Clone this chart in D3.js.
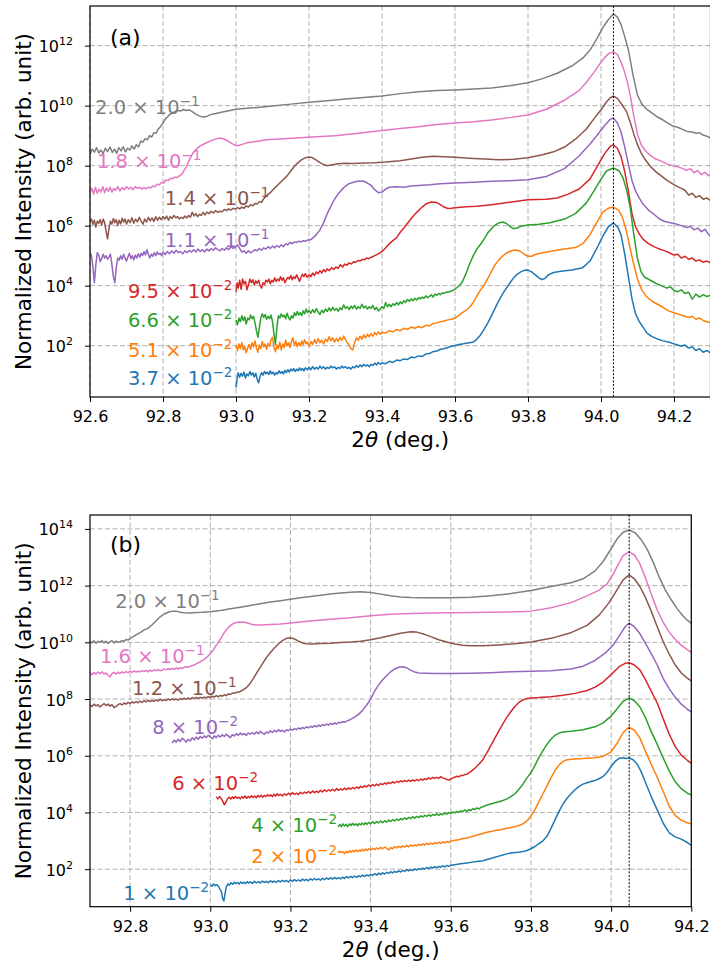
<!DOCTYPE html>
<html>
<head>
<meta charset="utf-8">
<script src="https://cdn.jsdelivr.net/npm/d3@7"></script>
<style>
body { margin:0; background:#fff; }
svg { font-family:"DejaVu Sans", sans-serif; }
.grid line { stroke:#b0b0b0; stroke-width:1; stroke-dasharray:5,2.5; }
.axis line { stroke:#000; stroke-width:1; }
.axis text { font-size:16px; fill:#000; font-family:"DejaVu Sans", sans-serif; }
</style>
</head>
<body>
<div id="chart-area"></div>
<script>
// each point: [2theta (deg), log10 of normalized intensity]

// ---------- panel (a) ----------
var aGray = [[92.600,8.38],[92.606,8.55],[92.612,8.45],[92.618,8.60],[92.624,8.42],[92.630,8.52],[92.636,8.40],[92.642,8.58],[92.648,8.47],[92.655,8.62],[92.661,8.44],[92.667,8.55],[92.673,8.41],[92.679,8.60],[92.685,8.49],[92.691,8.63],[92.697,8.46],[92.703,8.58],[92.709,8.52],[92.715,8.66],[92.721,8.55],[92.727,8.70],[92.733,8.62],[92.739,8.82],[92.745,8.78],[92.751,8.90],[92.757,8.86],[92.763,9.00],[92.769,8.95],[92.775,9.10],[92.781,9.08],[92.787,9.22],[92.793,9.30],[92.800,9.42],[92.806,9.55],[92.812,9.62],[92.818,9.70],[92.825,9.75],[92.832,9.80],[92.840,9.84],[92.848,9.82],[92.856,9.87],[92.864,9.84],[92.872,9.86],[92.880,9.80],[92.890,9.72],[92.900,9.65],[92.910,9.62],[92.920,9.64],[92.930,9.70],[92.945,9.74],[92.960,9.78],[92.980,9.83],[93.000,9.88],[93.03,9.91],[93.06,9.94],[93.10,9.99],[93.15,10.05],[93.20,10.11],[93.25,10.16],[93.30,10.22],[93.35,10.27],[93.40,10.32],[93.45,10.40],[93.50,10.46],[93.55,10.50],[93.60,10.52],[93.65,10.55],[93.70,10.59],[93.75,10.66],[93.80,10.76],[93.84,10.90],[93.88,11.08],[93.92,11.32],[93.95,11.58],[93.97,11.85],[93.99,12.26],[94.005,12.60],[94.02,12.86],[94.034,13.06],[94.045,12.95],[94.055,12.70],[94.065,12.30],[94.075,11.86],[94.088,11.00],[94.100,10.35],[94.112,10.05],[94.125,9.88],[94.140,9.75],[94.155,9.62],[94.17,9.52],[94.185,9.40],[94.197,9.32],[94.21,9.28],[94.225,9.20],[94.236,9.14],[94.25,9.12],[94.26,9.08],[94.27,9.10],[94.28,9.02],[94.29,8.98],[94.30,8.92]];

var aPink = [[92.600,7.10],[92.605,7.25],[92.610,7.05],[92.615,7.28],[92.620,7.08],[92.625,7.22],[92.630,7.12],[92.635,7.30],[92.640,7.10],[92.645,7.26],[92.650,7.14],[92.655,7.28],[92.660,7.12],[92.665,7.24],[92.670,7.18],[92.676,7.30],[92.682,7.16],[92.688,7.27],[92.694,7.20],[92.700,7.30],[92.706,7.22],[92.712,7.28],[92.718,7.20],[92.724,7.30],[92.730,7.24],[92.736,7.28],[92.742,7.22],[92.748,7.27],[92.754,7.23],[92.760,7.28],[92.766,7.26],[92.772,7.32],[92.778,7.30],[92.784,7.38],[92.790,7.36],[92.796,7.44],[92.802,7.42],[92.808,7.52],[92.814,7.50],[92.820,7.58],[92.826,7.56],[92.832,7.62],[92.838,7.60],[92.845,7.66],[92.852,7.72],[92.858,7.85],[92.864,7.96],[92.870,8.14],[92.876,8.28],[92.882,8.42],[92.892,8.56],[92.902,8.66],[92.912,8.72],[92.922,8.78],[92.935,8.85],[92.948,8.90],[92.958,8.92],[92.968,8.88],[92.978,8.82],[92.988,8.74],[92.998,8.68],[93.005,8.66],[93.015,8.70],[93.030,8.76],[93.050,8.80],[93.085,8.86],[93.13,8.90],[93.175,8.93],[93.22,8.96],[93.27,9.00],[93.33,9.07],[93.40,9.17],[93.45,9.24],[93.50,9.30],[93.55,9.37],[93.60,9.42],[93.65,9.46],[93.70,9.52],[93.75,9.60],[93.80,9.69],[93.85,9.88],[93.90,10.18],[93.94,10.50],[93.96,10.78],[93.98,11.10],[93.995,11.36],[94.01,11.60],[94.022,11.74],[94.034,11.79],[94.045,11.70],[94.055,11.45],[94.065,11.10],[94.073,10.75],[94.08,10.35],[94.09,9.65],[94.10,9.05],[94.11,8.70],[94.12,8.52],[94.135,8.34],[94.15,8.22],[94.165,8.15],[94.18,8.06],[94.195,8.00],[94.21,7.96],[94.225,7.90],[94.235,7.84],[94.245,7.90],[94.255,7.76],[94.265,7.84],[94.275,7.70],[94.285,7.78],[94.295,7.66],[94.30,7.70]];

var aBrown = [[92.600,6.12],[92.604,6.22],[92.608,6.05],[92.612,6.18],[92.616,5.95],[92.620,6.15],[92.624,6.08],[92.628,6.20],[92.632,6.02],[92.636,6.22],[92.640,6.10],[92.644,5.82],[92.648,5.56],[92.652,5.90],[92.656,6.15],[92.660,6.05],[92.664,6.24],[92.668,6.10],[92.672,6.20],[92.676,6.00],[92.680,6.18],[92.684,6.06],[92.688,6.25],[92.692,6.12],[92.696,6.22],[92.700,6.05],[92.705,6.20],[92.710,6.10],[92.715,6.26],[92.720,6.08],[92.725,6.22],[92.730,6.12],[92.735,6.28],[92.740,6.15],[92.745,6.05],[92.750,6.22],[92.755,6.12],[92.760,6.28],[92.765,6.16],[92.770,6.26],[92.775,6.14],[92.780,6.30],[92.785,6.18],[92.790,6.28],[92.795,6.20],[92.800,6.30],[92.805,6.22],[92.810,6.32],[92.815,6.18],[92.820,6.30],[92.825,6.24],[92.830,6.34],[92.835,6.26],[92.840,6.30],[92.845,6.22],[92.850,6.28],[92.855,6.24],[92.860,6.32],[92.865,6.26],[92.870,6.34],[92.875,6.28],[92.880,6.45],[92.885,6.32],[92.890,6.40],[92.895,6.30],[92.900,6.38],[92.905,6.34],[92.910,6.44],[92.915,6.36],[92.920,6.45],[92.926,6.40],[92.932,6.48],[92.938,6.42],[92.944,6.50],[92.950,6.44],[92.956,6.48],[92.962,6.46],[92.968,6.54],[92.974,6.50],[92.980,6.56],[92.986,6.52],[92.992,6.58],[92.998,6.55],[93.004,6.60],[93.010,6.56],[93.016,6.62],[93.022,6.58],[93.028,6.66],[93.034,6.62],[93.040,6.70],[93.046,6.66],[93.052,6.74],[93.058,6.72],[93.064,6.80],[93.070,6.78],[93.076,6.90],[93.082,6.98],[93.088,7.04],[93.094,7.10],[93.100,7.18],[93.110,7.30],[93.120,7.42],[93.130,7.54],[93.140,7.66],[93.150,7.82],[93.160,7.98],[93.170,8.10],[93.180,8.20],[93.190,8.26],[93.200,8.29],[93.210,8.26],[93.220,8.18],[93.230,8.10],[93.240,8.04],[93.250,8.00],[93.260,8.02],[93.280,8.06],[93.300,8.08],[93.320,8.07],[93.350,8.09],[93.380,8.10],[93.410,8.12],[93.450,8.16],[93.480,8.22],[93.510,8.28],[93.540,8.31],[93.570,8.30],[93.600,8.28],[93.640,8.25],[93.680,8.22],[93.720,8.20],[93.760,8.21],[93.800,8.26],[93.840,8.36],[93.870,8.46],[93.900,8.62],[93.930,8.88],[93.960,9.22],[93.980,9.55],[94.000,9.86],[94.015,10.12],[94.025,10.26],[94.034,10.32],[94.045,10.24],[94.058,10.02],[94.070,9.80],[94.080,9.45],[94.090,9.05],[94.100,8.70],[94.110,8.42],[94.120,8.22],[94.135,7.98],[94.150,7.80],[94.165,7.66],[94.180,7.52],[94.195,7.40],[94.21,7.30],[94.22,7.24],[94.23,7.18],[94.24,7.02],[94.25,7.08],[94.26,6.94],[94.27,7.00],[94.28,6.88],[94.29,6.92],[94.30,6.84]];

var aPurple = [[92.600,5.12],[92.604,5.00],[92.608,4.60],[92.612,4.10],[92.616,4.70],[92.620,5.10],[92.624,5.02],[92.628,4.80],[92.632,4.90],[92.636,5.05],[92.640,4.92],[92.644,5.00],[92.648,4.88],[92.652,4.95],[92.656,5.05],[92.660,4.70],[92.664,4.30],[92.668,4.10],[92.672,4.60],[92.676,4.92],[92.680,4.85],[92.684,5.00],[92.688,4.88],[92.692,5.05],[92.696,4.92],[92.700,4.82],[92.704,4.96],[92.708,5.08],[92.712,4.90],[92.716,5.00],[92.720,4.86],[92.724,5.02],[92.728,4.92],[92.732,5.06],[92.736,4.95],[92.740,5.08],[92.744,5.00],[92.748,5.14],[92.752,5.02],[92.756,5.20],[92.760,5.05],[92.764,4.92],[92.768,5.05],[92.772,4.98],[92.776,5.10],[92.780,5.00],[92.784,5.12],[92.788,5.04],[92.792,5.08],[92.796,5.00],[92.800,5.12],[92.806,5.04],[92.812,5.14],[92.818,5.06],[92.824,5.16],[92.830,5.08],[92.836,5.18],[92.842,5.10],[92.848,5.14],[92.854,5.06],[92.860,5.16],[92.866,5.10],[92.872,5.18],[92.878,5.12],[92.884,5.20],[92.890,5.12],[92.896,5.22],[92.902,5.14],[92.908,5.20],[92.914,5.12],[92.920,5.22],[92.926,5.16],[92.932,5.24],[92.938,5.18],[92.944,5.26],[92.950,5.20],[92.956,5.16],[92.962,5.24],[92.968,5.18],[92.974,5.26],[92.980,5.20],[92.986,5.30],[92.992,5.24],[92.998,5.28],[93.004,5.36],[93.010,5.24],[93.016,5.12],[93.022,5.16],[93.028,5.08],[93.034,5.16],[93.040,5.10],[93.046,5.14],[93.052,5.20],[93.058,5.16],[93.064,5.24],[93.070,5.18],[93.076,5.26],[93.082,5.22],[93.088,5.30],[93.094,5.24],[93.100,5.32],[93.106,5.26],[93.112,5.34],[93.118,5.28],[93.124,5.36],[93.130,5.30],[93.136,5.40],[93.142,5.36],[93.148,5.44],[93.154,5.40],[93.160,5.46],[93.166,5.44],[93.172,5.48],[93.178,5.46],[93.184,5.50],[93.190,5.48],[93.196,5.52],[93.202,5.52],[93.210,5.58],[93.220,5.70],[93.230,5.86],[93.240,6.10],[93.250,6.40],[93.260,6.65],[93.270,6.88],[93.280,7.06],[93.290,7.20],[93.300,7.32],[93.310,7.40],[93.320,7.44],[93.330,7.47],[93.340,7.49],[93.350,7.48],[93.360,7.42],[93.370,7.34],[93.380,7.20],[93.390,7.10],[93.400,7.12],[93.410,7.22],[93.420,7.28],[93.440,7.30],[93.460,7.28],[93.480,7.32],[93.500,7.34],[93.530,7.36],[93.560,7.40],[93.600,7.42],[93.650,7.45],[93.700,7.48],[93.750,7.50],[93.800,7.53],[93.850,7.64],[93.900,7.90],[93.940,8.32],[93.970,8.72],[93.990,9.02],[94.010,9.34],[94.025,9.54],[94.034,9.59],[94.045,9.42],[94.055,9.12],[94.065,8.62],[94.075,8.05],[94.085,7.50],[94.095,7.15],[94.105,6.92],[94.115,6.72],[94.13,6.52],[94.145,6.38],[94.16,6.22],[94.175,6.14],[94.19,6.10],[94.205,6.06],[94.22,6.00],[94.235,5.94],[94.245,5.98],[94.255,5.86],[94.265,5.92],[94.275,5.80],[94.285,5.88],[94.295,5.70],[94.30,5.65]];

var aRed = [[93.000,3.80],[93.003,4.10],[93.006,3.92],[93.010,4.18],[93.014,3.88],[93.018,4.22],[93.022,4.06],[93.026,4.14],[93.030,3.86],[93.034,4.02],[93.038,4.22],[93.042,4.10],[93.046,4.20],[93.050,4.02],[93.054,4.16],[93.058,4.08],[93.062,4.18],[93.066,4.00],[93.070,3.92],[93.074,4.10],[93.078,4.04],[93.082,4.18],[93.086,4.12],[93.090,4.22],[93.094,4.06],[93.098,4.18],[93.102,4.12],[93.106,4.26],[93.110,4.14],[93.114,4.22],[93.118,4.16],[93.122,4.30],[93.126,4.18],[93.130,4.26],[93.134,4.10],[93.138,4.20],[93.142,4.28],[93.146,4.22],[93.150,4.34],[93.154,4.20],[93.158,4.30],[93.162,4.24],[93.166,4.36],[93.170,4.26],[93.174,4.14],[93.178,4.28],[93.182,4.38],[93.186,4.30],[93.190,4.40],[93.195,4.28],[93.200,4.36],[93.205,4.30],[93.210,4.42],[93.215,4.34],[93.220,4.46],[93.225,4.40],[93.230,4.50],[93.235,4.42],[93.240,4.54],[93.245,4.46],[93.250,4.56],[93.256,4.50],[93.262,4.60],[93.268,4.54],[93.274,4.62],[93.280,4.58],[93.286,4.70],[93.292,4.62],[93.298,4.72],[93.304,4.68],[93.310,4.76],[93.316,4.72],[93.322,4.80],[93.328,4.78],[93.334,4.84],[93.340,4.82],[93.346,4.88],[93.352,4.86],[93.358,4.92],[93.364,4.90],[93.370,4.94],[93.380,5.00],[93.390,5.06],[93.400,5.14],[93.410,5.26],[93.420,5.40],[93.430,5.50],[93.440,5.60],[93.450,5.78],[93.460,5.92],[93.470,6.08],[93.480,6.24],[93.490,6.38],[93.500,6.50],[93.510,6.62],[93.520,6.72],[93.535,6.79],[93.550,6.77],[93.560,6.70],[93.570,6.62],[93.580,6.57],[93.590,6.58],[93.600,6.60],[93.630,6.63],[93.660,6.65],[93.700,6.70],[93.750,6.78],[93.800,6.86],[93.850,6.88],[93.880,6.92],[93.910,7.05],[93.940,7.22],[93.970,7.56],[93.990,7.98],[94.010,8.40],[94.025,8.64],[94.034,8.69],[94.045,8.58],[94.055,8.30],[94.065,7.80],[94.075,7.15],[94.085,6.40],[94.095,5.95],[94.105,5.72],[94.115,5.55],[94.13,5.40],[94.145,5.30],[94.16,5.22],[94.175,5.16],[94.19,5.08],[94.2,5.02],[94.21,5.05],[94.22,4.92],[94.23,4.98],[94.24,4.88],[94.25,4.92],[94.26,4.82],[94.27,4.86],[94.28,4.78],[94.29,4.82],[94.30,4.76]];

var aGreen = [[93.000,2.86],[93.004,2.70],[93.008,2.92],[93.012,2.80],[93.016,3.00],[93.020,2.84],[93.024,2.96],[93.028,2.72],[93.032,2.92],[93.036,2.86],[93.040,3.02],[93.044,2.90],[93.048,2.98],[93.052,2.76],[93.056,2.50],[93.060,2.28],[93.064,2.60],[93.068,2.92],[93.072,3.06],[93.076,2.94],[93.080,3.04],[93.084,2.88],[93.088,2.98],[93.092,2.90],[93.096,3.02],[93.100,2.80],[93.104,2.40],[93.108,2.04],[93.112,2.60],[93.116,3.00],[93.120,2.92],[93.124,3.06],[93.128,2.96],[93.132,3.02],[93.136,2.90],[93.140,3.08],[93.144,2.94],[93.148,2.86],[93.152,3.00],[93.156,2.92],[93.160,3.10],[93.164,3.00],[93.168,3.14],[93.172,3.02],[93.176,3.10],[93.180,3.00],[93.184,3.16],[93.188,3.06],[93.192,3.22],[93.196,3.10],[93.200,3.18],[93.205,3.08],[93.210,3.20],[93.215,3.10],[93.220,3.24],[93.225,3.12],[93.230,3.04],[93.235,3.18],[93.240,3.10],[93.245,3.22],[93.250,3.14],[93.255,3.26],[93.260,3.16],[93.265,3.28],[93.270,3.18],[93.275,3.24],[93.280,3.14],[93.285,3.26],[93.290,3.20],[93.295,3.36],[93.300,3.24],[93.305,3.30],[93.310,3.20],[93.315,3.32],[93.320,3.24],[93.325,3.34],[93.330,3.22],[93.335,3.30],[93.340,3.24],[93.345,3.38],[93.350,3.26],[93.355,3.32],[93.360,3.22],[93.365,3.30],[93.370,3.24],[93.375,3.34],[93.380,3.20],[93.385,3.28],[93.390,3.16],[93.395,3.22],[93.400,3.30],[93.405,3.24],[93.410,3.44],[93.415,3.30],[93.420,3.38],[93.425,3.30],[93.430,3.40],[93.435,3.34],[93.440,3.44],[93.445,3.36],[93.450,3.46],[93.455,3.40],[93.460,3.50],[93.465,3.44],[93.470,3.54],[93.475,3.48],[93.480,3.56],[93.485,3.50],[93.490,3.58],[93.495,3.52],[93.500,3.60],[93.505,3.56],[93.510,3.62],[93.515,3.58],[93.520,3.66],[93.525,3.60],[93.530,3.64],[93.535,3.70],[93.540,3.62],[93.545,3.72],[93.550,3.68],[93.555,3.74],[93.560,3.70],[93.565,3.76],[93.570,3.74],[93.575,3.78],[93.580,3.78],[93.590,3.82],[93.600,3.88],[93.610,3.98],[93.620,4.12],[93.630,4.40],[93.640,4.72],[93.650,5.00],[93.660,5.22],[93.670,5.38],[93.680,5.56],[93.690,5.76],[93.700,5.90],[93.710,6.02],[93.720,6.09],[93.730,6.12],[93.740,6.08],[93.750,5.98],[93.760,5.90],[93.770,5.92],[93.780,5.98],[93.800,6.02],[93.830,6.05],[93.860,6.10],[93.900,6.22],[93.930,6.40],[93.960,6.76],[93.980,7.14],[94.000,7.55],[94.015,7.82],[94.034,7.92],[94.050,7.82],[94.060,7.60],[94.070,7.20],[94.080,6.60],[94.090,5.70],[94.100,4.90],[94.110,4.45],[94.120,4.28],[94.135,4.18],[94.150,4.08],[94.165,4.00],[94.18,3.92],[94.19,3.96],[94.20,3.84],[94.21,3.80],[94.22,3.86],[94.23,3.74],[94.24,3.78],[94.25,3.55],[94.26,3.72],[94.27,3.62],[94.28,3.70],[94.29,3.64],[94.30,3.68]];

var aOrange = [[93.000,2.02],[93.004,1.84],[93.008,2.06],[93.012,1.90],[93.016,2.10],[93.020,1.86],[93.024,1.98],[93.028,1.76],[93.032,1.92],[93.036,2.04],[93.040,1.88],[93.044,2.10],[93.048,1.96],[93.052,2.16],[93.056,1.94],[93.060,1.78],[93.064,2.02],[93.068,1.90],[93.072,2.14],[93.076,1.96],[93.080,2.06],[93.084,1.88],[93.088,2.08],[93.092,1.98],[93.096,2.20],[93.100,2.28],[93.104,1.96],[93.108,1.80],[93.112,2.02],[93.116,1.90],[93.120,2.12],[93.124,1.86],[93.128,2.06],[93.132,1.94],[93.136,2.18],[93.140,2.00],[93.144,2.10],[93.148,1.94],[93.152,2.14],[93.156,2.26],[93.160,2.02],[93.164,2.14],[93.168,1.96],[93.172,2.10],[93.176,2.00],[93.180,2.16],[93.184,2.04],[93.188,2.20],[93.192,2.06],[93.196,2.12],[93.200,1.98],[93.205,2.14],[93.210,2.04],[93.215,2.20],[93.220,2.08],[93.225,2.24],[93.230,2.10],[93.235,2.18],[93.240,2.06],[93.245,2.22],[93.250,2.14],[93.255,2.30],[93.260,2.16],[93.265,2.26],[93.270,2.12],[93.275,2.24],[93.280,2.14],[93.285,2.28],[93.290,2.18],[93.295,2.32],[93.300,2.20],[93.305,2.10],[93.310,2.02],[93.315,1.90],[93.320,1.86],[93.325,2.10],[93.330,2.26],[93.335,2.18],[93.340,2.32],[93.345,2.22],[93.350,2.36],[93.355,2.26],[93.360,2.38],[93.365,2.30],[93.370,2.40],[93.375,2.32],[93.380,2.44],[93.385,2.36],[93.390,2.46],[93.395,2.38],[93.400,2.44],[93.410,2.42],[93.420,2.50],[93.430,2.46],[93.440,2.54],[93.450,2.50],[93.460,2.58],[93.470,2.54],[93.480,2.62],[93.490,2.58],[93.500,2.64],[93.510,2.60],[93.520,2.68],[93.530,2.66],[93.540,2.74],[93.550,2.76],[93.560,2.80],[93.570,2.82],[93.580,2.86],[93.590,2.88],[93.600,2.92],[93.610,3.00],[93.620,3.10],[93.630,3.18],[93.640,3.28],[93.650,3.44],[93.660,3.66],[93.670,3.86],[93.680,4.02],[93.690,4.24],[93.700,4.48],[93.710,4.70],[93.720,4.86],[93.730,4.98],[93.740,5.08],[93.750,5.14],[93.760,5.18],[93.770,5.19],[93.780,5.14],[93.790,5.04],[93.800,4.98],[93.810,4.98],[93.820,5.04],[93.840,5.10],[93.870,5.16],[93.900,5.22],[93.930,5.27],[93.950,5.40],[93.970,5.70],[93.990,6.14],[94.005,6.45],[94.020,6.58],[94.034,6.62],[94.048,6.52],[94.058,6.30],[94.068,5.90],[94.078,5.35],[94.088,4.80],[94.100,4.22],[94.112,3.85],[94.126,3.62],[94.14,3.48],[94.155,3.38],[94.17,3.28],[94.185,3.16],[94.2,3.10],[94.215,3.04],[94.23,2.98],[94.24,2.94],[94.25,2.98],[94.26,2.88],[94.27,2.92],[94.28,2.84],[94.29,2.80],[94.30,2.76]];

var aBlue = [[93.000,0.60],[93.003,0.90],[93.006,1.10],[93.010,0.95],[93.014,1.08],[93.018,0.98],[93.022,1.12],[93.026,0.92],[93.030,1.06],[93.034,1.00],[93.038,1.14],[93.042,1.02],[93.046,1.10],[93.050,0.96],[93.054,1.08],[93.058,0.88],[93.062,0.76],[93.066,0.98],[93.070,1.10],[93.074,1.02],[93.078,1.14],[93.082,1.06],[93.086,1.12],[93.090,1.04],[93.094,1.16],[93.098,1.06],[93.102,1.12],[93.106,1.02],[93.110,1.10],[93.114,1.06],[93.118,1.16],[93.122,1.08],[93.126,1.14],[93.130,1.06],[93.134,1.18],[93.138,1.10],[93.142,1.20],[93.146,1.12],[93.150,1.22],[93.154,1.16],[93.158,1.24],[93.162,1.14],[93.166,1.22],[93.170,1.16],[93.174,1.26],[93.178,1.18],[93.182,1.24],[93.186,1.16],[93.190,1.26],[93.195,1.20],[93.200,1.28],[93.205,1.20],[93.210,1.30],[93.215,1.22],[93.220,1.28],[93.225,1.22],[93.230,1.32],[93.235,1.24],[93.240,1.30],[93.245,1.22],[93.250,1.28],[93.255,1.24],[93.260,1.32],[93.265,1.26],[93.270,1.30],[93.275,1.22],[93.280,1.28],[93.285,1.24],[93.290,1.32],[93.295,1.26],[93.300,1.30],[93.305,1.24],[93.310,1.28],[93.315,1.22],[93.320,1.30],[93.325,1.26],[93.330,1.34],[93.335,1.28],[93.340,1.36],[93.345,1.30],[93.350,1.38],[93.355,1.32],[93.360,1.36],[93.365,1.30],[93.370,1.38],[93.375,1.34],[93.380,1.42],[93.385,1.36],[93.390,1.44],[93.395,1.38],[93.400,1.42],[93.410,1.40],[93.420,1.48],[93.430,1.44],[93.440,1.52],[93.450,1.50],[93.460,1.56],[93.470,1.54],[93.480,1.62],[93.490,1.60],[93.500,1.66],[93.510,1.64],[93.520,1.72],[93.530,1.74],[93.540,1.80],[93.550,1.82],[93.560,1.88],[93.570,1.90],[93.580,1.94],[93.590,1.98],[93.600,2.00],[93.610,2.04],[93.620,2.06],[93.630,2.08],[93.640,2.10],[93.650,2.12],[93.660,2.22],[93.670,2.36],[93.680,2.55],[93.690,2.76],[93.700,3.00],[93.710,3.25],[93.720,3.50],[93.730,3.72],[93.740,3.90],[93.750,4.08],[93.760,4.25],[93.770,4.38],[93.780,4.46],[93.790,4.51],[93.800,4.52],[93.810,4.46],[93.820,4.36],[93.830,4.26],[93.838,4.20],[93.846,4.24],[93.856,4.36],[93.870,4.44],[93.890,4.48],[93.920,4.52],[93.950,4.60],[93.970,4.82],[93.990,5.28],[94.005,5.65],[94.020,5.96],[94.034,6.09],[94.046,5.95],[94.055,5.70],[94.065,5.05],[94.075,4.30],[94.085,3.55],[94.095,3.05],[94.105,2.80],[94.115,2.62],[94.126,2.42],[94.14,2.30],[94.155,2.22],[94.17,2.16],[94.185,2.12],[94.20,2.06],[94.21,2.02],[94.22,1.98],[94.23,2.02],[94.24,1.92],[94.25,1.96],[94.26,1.84],[94.27,1.90],[94.28,1.78],[94.29,1.84],[94.30,1.76]];

// ---------- panel (b) ----------
var bGray = [[92.700,10.03],[92.705,9.98],[92.710,10.05],[92.715,9.97],[92.720,10.04],[92.725,10.00],[92.730,10.06],[92.735,9.98],[92.740,10.04],[92.745,9.96],[92.750,10.02],[92.755,10.06],[92.760,9.98],[92.765,10.04],[92.770,10.00],[92.775,10.02],[92.780,10.06],[92.785,10.04],[92.790,10.10],[92.795,10.08],[92.800,10.14],[92.807,10.19],[92.815,10.26],[92.825,10.34],[92.835,10.44],[92.845,10.50],[92.855,10.62],[92.865,10.76],[92.875,10.90],[92.885,11.00],[92.895,11.06],[92.905,11.10],[92.915,11.10],[92.925,11.06],[92.935,11.04],[92.950,11.03],[92.965,11.05],[92.980,11.06],[93.000,11.08],[93.025,11.12],[93.050,11.18],[93.075,11.24],[93.100,11.30],[93.125,11.36],[93.150,11.42],[93.175,11.47],[93.200,11.52],[93.225,11.57],[93.250,11.62],[93.275,11.66],[93.300,11.70],[93.325,11.74],[93.350,11.77],[93.375,11.78],[93.400,11.76],[93.425,11.70],[93.450,11.64],[93.475,11.60],[93.500,11.58],[93.530,11.57],[93.560,11.57],[93.600,11.57],[93.650,11.59],[93.700,11.64],[93.750,11.72],[93.800,11.83],[93.850,11.97],[93.900,12.10],[93.930,12.24],[93.960,12.52],[93.980,12.85],[94.000,13.30],[94.015,13.65],[94.030,13.88],[94.045,13.96],[94.060,13.86],[94.075,13.62],[94.090,13.28],[94.105,12.82],[94.120,12.30],[94.135,11.85],[94.150,11.50],[94.165,11.18],[94.180,10.92],[94.190,10.78],[94.200,10.68]];

var bPink = [[92.700,8.92],[92.705,8.86],[92.710,8.94],[92.715,8.88],[92.720,8.95],[92.725,8.90],[92.730,8.96],[92.735,8.88],[92.740,8.92],[92.745,8.84],[92.750,8.78],[92.755,8.90],[92.760,8.94],[92.765,8.88],[92.770,8.95],[92.775,8.90],[92.780,8.96],[92.785,8.92],[92.790,8.97],[92.795,8.93],[92.800,8.98],[92.805,8.94],[92.810,8.99],[92.815,8.95],[92.820,8.98],[92.825,8.96],[92.830,9.00],[92.835,8.97],[92.840,9.01],[92.845,8.96],[92.850,9.02],[92.855,8.98],[92.860,9.03],[92.865,9.00],[92.870,9.04],[92.875,9.00],[92.880,9.02],[92.885,9.06],[92.890,9.03],[92.895,9.07],[92.900,9.04],[92.905,9.08],[92.910,9.05],[92.915,9.10],[92.920,9.06],[92.925,9.10],[92.930,9.08],[92.935,9.12],[92.940,9.14],[92.945,9.12],[92.950,9.16],[92.955,9.18],[92.960,9.20],[92.965,9.24],[92.970,9.28],[92.975,9.31],[92.980,9.36],[92.985,9.40],[92.990,9.46],[92.995,9.52],[93.000,9.60],[93.008,9.74],[93.016,9.92],[93.024,10.08],[93.032,10.28],[93.040,10.44],[93.048,10.56],[93.056,10.65],[93.064,10.70],[93.075,10.72],[93.085,10.71],[93.095,10.67],[93.105,10.63],[93.115,10.61],[93.125,10.61],[93.150,10.63],[93.175,10.65],[93.200,10.68],[93.250,10.75],[93.300,10.81],[93.350,10.87],[93.400,10.94],[93.450,10.99],[93.500,11.02],[93.550,11.03],[93.600,11.04],[93.650,11.05],[93.700,11.06],[93.750,11.07],[93.800,11.10],[93.850,11.22],[93.900,11.40],[93.940,11.64],[93.970,11.84],[93.990,12.06],[94.005,12.40],[94.018,12.76],[94.030,13.06],[94.045,13.19],[94.058,13.08],[94.070,12.82],[94.085,12.30],[94.100,11.70],[94.115,11.14],[94.130,10.70],[94.145,10.36],[94.160,10.10],[94.175,9.90],[94.190,9.74],[94.200,9.65]];

var bBrown = [[92.700,7.79],[92.705,7.74],[92.710,7.82],[92.715,7.76],[92.720,7.80],[92.725,7.72],[92.730,7.78],[92.735,7.84],[92.740,7.77],[92.745,7.82],[92.750,7.75],[92.755,7.80],[92.760,7.70],[92.765,7.74],[92.770,7.80],[92.775,7.84],[92.780,7.79],[92.785,7.86],[92.790,7.82],[92.795,7.88],[92.800,7.84],[92.805,7.90],[92.810,7.86],[92.815,7.91],[92.820,7.87],[92.825,7.93],[92.830,7.88],[92.835,7.94],[92.840,7.90],[92.845,7.96],[92.850,7.91],[92.855,7.95],[92.860,7.92],[92.865,7.97],[92.870,7.93],[92.875,7.99],[92.880,7.94],[92.885,7.98],[92.890,7.95],[92.895,8.00],[92.900,7.96],[92.905,8.01],[92.910,7.97],[92.915,8.00],[92.920,7.96],[92.925,8.02],[92.930,7.98],[92.935,8.03],[92.940,7.99],[92.945,8.04],[92.950,8.00],[92.955,8.05],[92.960,8.01],[92.965,8.06],[92.970,8.02],[92.975,8.06],[92.980,8.03],[92.985,8.07],[92.990,8.04],[92.995,8.08],[93.000,8.05],[93.005,8.10],[93.010,8.07],[93.015,8.12],[93.020,8.08],[93.025,8.13],[93.030,8.10],[93.035,8.15],[93.040,8.12],[93.045,8.18],[93.050,8.16],[93.055,8.21],[93.060,8.20],[93.065,8.24],[93.070,8.24],[93.075,8.27],[93.082,8.32],[93.090,8.40],[93.100,8.56],[93.110,8.78],[93.120,9.02],[93.130,9.24],[93.140,9.46],[93.150,9.64],[93.160,9.80],[93.170,9.94],[93.180,10.06],[93.190,10.14],[93.200,10.16],[93.210,10.12],[93.220,10.04],[93.230,9.98],[93.240,9.95],[93.255,9.94],[93.275,9.96],[93.300,9.97],[93.325,9.99],[93.350,10.01],[93.375,10.04],[93.400,10.09],[93.425,10.16],[93.450,10.24],[93.475,10.32],[93.500,10.37],[93.515,10.36],[93.530,10.30],[93.550,10.20],[93.570,10.09],[93.590,10.01],[93.610,9.94],[93.630,9.90],[93.650,9.88],[93.680,9.88],[93.720,9.91],[93.760,9.95],[93.800,10.01],[93.850,10.14],[93.900,10.34],[93.940,10.60],[93.970,10.96],[93.995,11.40],[94.015,11.86],[94.030,12.20],[94.045,12.38],[94.058,12.24],[94.072,11.96],[94.085,11.60],[94.100,11.10],[94.115,10.55],[94.130,10.02],[94.145,9.58],[94.160,9.20],[94.175,8.92],[94.190,8.74],[94.200,8.64]];

var bPurple = [[92.905,6.45],[92.910,6.55],[92.915,6.48],[92.920,6.58],[92.925,6.50],[92.930,6.62],[92.935,6.56],[92.940,6.48],[92.945,6.58],[92.950,6.52],[92.955,6.64],[92.960,6.56],[92.965,6.66],[92.970,6.58],[92.975,6.68],[92.980,6.62],[92.985,6.70],[92.990,6.64],[92.995,6.72],[93.000,6.66],[93.005,6.60],[93.010,6.70],[93.015,6.64],[93.020,6.72],[93.025,6.66],[93.030,6.74],[93.035,6.68],[93.040,6.76],[93.045,6.70],[93.050,6.64],[93.055,6.74],[93.060,6.70],[93.065,6.78],[93.070,6.72],[93.075,6.80],[93.080,6.74],[93.085,6.78],[93.090,6.72],[93.095,6.80],[93.100,6.76],[93.105,6.82],[93.110,6.76],[93.115,6.84],[93.120,6.78],[93.125,6.86],[93.130,6.80],[93.135,6.76],[93.140,6.84],[93.145,6.80],[93.150,6.88],[93.155,6.82],[93.160,6.90],[93.165,6.84],[93.170,6.92],[93.175,6.86],[93.180,6.90],[93.185,6.84],[93.190,6.92],[93.195,6.88],[93.200,6.94],[93.205,6.90],[93.210,6.96],[93.215,6.92],[93.220,6.98],[93.225,6.94],[93.230,7.00],[93.235,6.96],[93.240,7.02],[93.245,6.98],[93.250,7.04],[93.255,7.00],[93.260,7.06],[93.265,7.02],[93.270,7.08],[93.275,7.04],[93.280,7.10],[93.285,7.06],[93.290,7.12],[93.295,7.08],[93.300,7.14],[93.305,7.10],[93.310,7.16],[93.315,7.12],[93.320,7.18],[93.325,7.16],[93.330,7.20],[93.335,7.18],[93.340,7.22],[93.350,7.28],[93.360,7.36],[93.370,7.46],[93.380,7.60],[93.390,7.78],[93.400,8.00],[93.410,8.28],[93.420,8.50],[93.430,8.68],[93.440,8.82],[93.450,8.96],[93.460,9.06],[93.470,9.12],[93.480,9.14],[93.490,9.10],[93.500,9.02],[93.510,8.95],[93.520,8.92],[93.540,8.91],[93.560,8.90],[93.600,8.90],[93.650,8.91],[93.700,8.93],[93.750,8.96],[93.800,8.98],[93.850,9.00],[93.900,9.06],[93.930,9.16],[93.960,9.36],[93.985,9.62],[94.005,9.90],[94.020,10.22],[94.035,10.55],[94.045,10.68],[94.058,10.55],[94.072,10.30],[94.085,9.98],[94.100,9.60],[94.115,9.20],[94.130,8.72],[94.145,8.36],[94.160,8.06],[94.175,7.82],[94.190,7.64],[94.200,7.55]];

var bRed = [[93.015,4.55],[93.019,4.48],[93.023,4.56],[93.027,4.50],[93.031,4.40],[93.035,4.27],[93.039,4.36],[93.043,4.48],[93.047,4.54],[93.051,4.47],[93.055,4.55],[93.059,4.49],[93.063,4.56],[93.067,4.50],[93.071,4.54],[93.075,4.48],[93.079,4.56],[93.083,4.51],[93.087,4.58],[93.091,4.50],[93.095,4.56],[93.099,4.52],[93.103,4.59],[93.107,4.53],[93.111,4.58],[93.115,4.52],[93.119,4.60],[93.123,4.55],[93.127,4.61],[93.131,4.54],[93.135,4.60],[93.139,4.56],[93.143,4.63],[93.147,4.57],[93.151,4.62],[93.155,4.56],[93.159,4.64],[93.163,4.58],[93.167,4.66],[93.171,4.60],[93.175,4.64],[93.180,4.58],[93.185,4.66],[93.190,4.61],[93.195,4.68],[93.200,4.62],[93.205,4.70],[93.210,4.64],[93.215,4.68],[93.220,4.63],[93.225,4.71],[93.230,4.66],[93.235,4.72],[93.240,4.68],[93.245,4.74],[93.250,4.68],[93.255,4.76],[93.260,4.70],[93.265,4.75],[93.270,4.70],[93.275,4.78],[93.280,4.72],[93.285,4.80],[93.290,4.74],[93.295,4.80],[93.300,4.76],[93.305,4.82],[93.310,4.76],[93.315,4.84],[93.320,4.78],[93.325,4.83],[93.330,4.79],[93.335,4.86],[93.340,4.80],[93.345,4.87],[93.350,4.82],[93.355,4.88],[93.360,4.84],[93.365,4.90],[93.370,4.85],[93.375,4.92],[93.380,4.88],[93.385,4.94],[93.390,4.90],[93.395,4.97],[93.400,4.92],[93.405,4.98],[93.410,4.94],[93.415,5.00],[93.420,4.95],[93.425,5.02],[93.430,4.98],[93.435,5.04],[93.440,5.00],[93.445,5.06],[93.450,5.02],[93.455,5.08],[93.460,5.04],[93.465,5.10],[93.470,5.06],[93.475,5.12],[93.480,5.08],[93.485,5.13],[93.490,5.09],[93.495,5.14],[93.500,5.10],[93.505,5.15],[93.510,5.11],[93.515,5.16],[93.520,5.12],[93.525,5.18],[93.530,5.14],[93.535,5.19],[93.540,5.16],[93.545,5.22],[93.550,5.18],[93.555,5.24],[93.560,5.20],[93.565,5.24],[93.570,5.20],[93.575,5.26],[93.580,5.22],[93.585,5.20],[93.590,5.16],[93.595,5.14],[93.600,5.18],[93.605,5.22],[93.610,5.24],[93.615,5.28],[93.620,5.26],[93.625,5.30],[93.630,5.30],[93.635,5.34],[93.640,5.35],[93.645,5.40],[93.650,5.44],[93.660,5.56],[93.670,5.70],[93.680,5.86],[93.690,6.10],[93.700,6.36],[93.710,6.62],[93.720,6.88],[93.730,7.12],[93.740,7.36],[93.750,7.56],[93.760,7.74],[93.770,7.88],[93.780,7.97],[93.790,8.02],[93.800,8.04],[93.820,8.05],[93.850,8.08],[93.880,8.13],[93.910,8.20],[93.940,8.30],[93.960,8.42],[93.980,8.60],[94.000,8.86],[94.020,9.14],[94.035,9.26],[94.045,9.28],[94.058,9.20],[94.072,9.02],[94.085,8.70],[94.100,8.28],[94.115,7.86],[94.130,7.30],[94.145,6.76],[94.160,6.32],[94.175,6.02],[94.190,5.84],[94.200,5.74]];

var bGreen = [[93.319,3.49],[93.323,3.58],[93.327,3.50],[93.331,3.60],[93.335,3.52],[93.339,3.58],[93.343,3.50],[93.347,3.60],[93.351,3.54],[93.355,3.62],[93.359,3.55],[93.363,3.60],[93.367,3.53],[93.371,3.61],[93.375,3.56],[93.379,3.63],[93.383,3.57],[93.387,3.64],[93.391,3.58],[93.395,3.65],[93.400,3.60],[93.405,3.67],[93.410,3.61],[93.415,3.68],[93.420,3.63],[93.425,3.70],[93.430,3.64],[93.435,3.71],[93.440,3.66],[93.445,3.73],[93.450,3.68],[93.455,3.75],[93.460,3.70],[93.465,3.77],[93.470,3.72],[93.475,3.79],[93.480,3.74],[93.485,3.81],[93.490,3.76],[93.495,3.83],[93.500,3.78],[93.505,3.85],[93.510,3.80],[93.515,3.86],[93.520,3.82],[93.525,3.88],[93.530,3.84],[93.535,3.90],[93.540,3.86],[93.545,3.92],[93.550,3.87],[93.555,3.93],[93.560,3.89],[93.565,3.95],[93.570,3.90],[93.575,3.96],[93.580,3.92],[93.585,3.98],[93.590,3.94],[93.595,4.00],[93.600,3.96],[93.605,4.02],[93.610,3.98],[93.615,4.04],[93.620,4.00],[93.625,4.06],[93.630,4.03],[93.635,4.09],[93.640,4.04],[93.645,4.10],[93.650,4.06],[93.655,4.14],[93.660,4.10],[93.665,4.16],[93.670,4.12],[93.675,4.18],[93.680,4.20],[93.690,4.26],[93.700,4.30],[93.710,4.34],[93.720,4.38],[93.730,4.42],[93.740,4.48],[93.750,4.56],[93.760,4.66],[93.770,4.82],[93.780,5.00],[93.790,5.22],[93.800,5.40],[93.810,5.66],[93.820,5.94],[93.830,6.18],[93.840,6.40],[93.850,6.58],[93.860,6.72],[93.870,6.80],[93.880,6.84],[93.900,6.86],[93.930,6.92],[93.960,7.02],[93.980,7.16],[94.000,7.40],[94.015,7.66],[94.030,7.92],[94.045,8.04],[94.058,7.94],[94.072,7.72],[94.085,7.36],[94.100,6.86],[94.115,6.40],[94.130,5.92],[94.145,5.46],[94.160,5.08],[94.175,4.84],[94.190,4.68],[94.200,4.62]];

var bOrange = [[93.319,2.57],[93.323,2.64],[93.327,2.58],[93.331,2.62],[93.335,2.55],[93.339,2.63],[93.343,2.58],[93.347,2.65],[93.351,2.60],[93.355,2.66],[93.359,2.61],[93.363,2.68],[93.367,2.62],[93.371,2.67],[93.375,2.63],[93.379,2.70],[93.383,2.64],[93.387,2.71],[93.391,2.66],[93.395,2.72],[93.400,2.67],[93.405,2.74],[93.410,2.69],[93.415,2.75],[93.420,2.71],[93.425,2.77],[93.430,2.72],[93.435,2.78],[93.440,2.74],[93.445,2.68],[93.450,2.76],[93.455,2.72],[93.460,2.80],[93.465,2.75],[93.470,2.81],[93.475,2.76],[93.480,2.82],[93.485,2.78],[93.490,2.84],[93.495,2.79],[93.500,2.85],[93.505,2.81],[93.510,2.86],[93.515,2.82],[93.520,2.88],[93.525,2.84],[93.530,2.89],[93.535,2.85],[93.540,2.91],[93.545,2.87],[93.550,2.92],[93.555,2.88],[93.560,2.94],[93.565,2.90],[93.570,2.95],[93.575,2.91],[93.580,2.96],[93.585,2.93],[93.590,2.98],[93.595,2.94],[93.600,2.99],[93.610,3.02],[93.620,3.04],[93.630,3.08],[93.640,3.10],[93.650,3.14],[93.660,3.18],[93.670,3.22],[93.680,3.26],[93.690,3.30],[93.700,3.33],[93.710,3.36],[93.720,3.38],[93.730,3.41],[93.740,3.44],[93.750,3.47],[93.760,3.50],[93.770,3.54],[93.780,3.60],[93.790,3.70],[93.800,3.88],[93.810,4.10],[93.820,4.38],[93.830,4.66],[93.840,4.94],[93.850,5.22],[93.860,5.48],[93.870,5.68],[93.880,5.80],[93.890,5.86],[93.900,5.88],[93.930,5.90],[93.960,5.93],[93.980,5.98],[94.000,6.14],[94.015,6.44],[94.030,6.82],[94.045,7.01],[94.058,6.90],[94.072,6.62],[94.085,6.18],[94.100,5.70],[94.115,5.24],[94.130,4.74],[94.145,4.22],[94.160,3.90],[94.175,3.72],[94.190,3.64],[94.200,3.60]];

var bBlue = [[93.000,1.45],[93.004,1.40],[93.008,1.48],[93.012,1.42],[93.016,1.46],[93.020,1.40],[93.024,1.30],[93.028,1.20],[93.031,0.95],[93.034,0.88],[93.037,1.15],[93.040,1.38],[93.044,1.48],[93.048,1.44],[93.052,1.52],[93.056,1.47],[93.060,1.54],[93.064,1.49],[93.068,1.53],[93.072,1.48],[93.076,1.55],[93.080,1.50],[93.084,1.54],[93.088,1.49],[93.092,1.56],[93.096,1.51],[93.100,1.55],[93.105,1.50],[93.110,1.57],[93.115,1.52],[93.120,1.56],[93.125,1.51],[93.130,1.58],[93.135,1.53],[93.140,1.57],[93.145,1.52],[93.150,1.59],[93.155,1.54],[93.160,1.58],[93.165,1.53],[93.170,1.60],[93.175,1.55],[93.180,1.61],[93.185,1.56],[93.190,1.60],[93.195,1.55],[93.200,1.62],[93.205,1.57],[93.210,1.63],[93.215,1.58],[93.220,1.62],[93.225,1.58],[93.230,1.65],[93.235,1.60],[93.240,1.64],[93.245,1.59],[93.250,1.66],[93.255,1.61],[93.260,1.67],[93.265,1.62],[93.270,1.66],[93.275,1.61],[93.280,1.68],[93.285,1.63],[93.290,1.69],[93.295,1.64],[93.300,1.70],[93.305,1.65],[93.310,1.71],[93.315,1.66],[93.320,1.70],[93.325,1.66],[93.330,1.72],[93.335,1.67],[93.340,1.74],[93.345,1.69],[93.350,1.75],[93.355,1.70],[93.360,1.76],[93.365,1.71],[93.370,1.77],[93.375,1.73],[93.380,1.79],[93.385,1.74],[93.390,1.80],[93.395,1.76],[93.400,1.82],[93.405,1.78],[93.410,1.84],[93.415,1.79],[93.420,1.86],[93.425,1.81],[93.430,1.87],[93.435,1.83],[93.440,1.89],[93.445,1.85],[93.450,1.91],[93.455,1.87],[93.460,1.92],[93.465,1.89],[93.470,1.94],[93.475,1.90],[93.480,1.96],[93.485,1.92],[93.490,1.98],[93.495,1.94],[93.500,1.99],[93.505,1.95],[93.510,2.01],[93.515,1.97],[93.520,2.02],[93.525,1.99],[93.530,2.04],[93.535,2.00],[93.540,2.06],[93.545,2.02],[93.550,2.07],[93.555,2.04],[93.560,2.09],[93.565,2.05],[93.570,2.10],[93.575,2.07],[93.580,2.12],[93.585,2.08],[93.590,2.13],[93.595,2.10],[93.600,2.14],[93.610,2.16],[93.620,2.18],[93.630,2.20],[93.640,2.22],[93.650,2.24],[93.660,2.26],[93.670,2.28],[93.680,2.30],[93.690,2.34],[93.700,2.38],[93.710,2.42],[93.720,2.46],[93.730,2.50],[93.740,2.54],[93.750,2.57],[93.760,2.59],[93.770,2.60],[93.780,2.62],[93.790,2.66],[93.800,2.72],[93.810,2.80],[93.820,2.90],[93.830,3.00],[93.840,3.16],[93.850,3.44],[93.860,3.74],[93.870,4.04],[93.880,4.30],[93.890,4.50],[93.900,4.66],[93.910,4.80],[93.920,4.92],[93.930,5.00],[93.940,5.05],[93.950,5.09],[93.960,5.13],[93.970,5.19],[93.980,5.27],[93.990,5.42],[94.000,5.62],[94.010,5.80],[94.020,5.91],[94.030,5.93],[94.037,5.90],[94.045,5.92],[94.055,5.86],[94.065,5.70],[94.075,5.44],[94.085,5.08],[94.100,4.56],[94.115,4.09],[94.130,3.62],[94.145,3.28],[94.160,3.14],[94.175,3.06],[94.190,2.94],[94.200,2.85]];

// label mantissas and exponents (concentration), same order as the series
var labelsA = ["2.0", "1.8", "1.4", "1.1", "9.5", "6.6", "5.1", "3.7"];
var expsA   = [-1, -1, -1, -1, -2, -2, -2, -2];
var labelsB = ["2.0", "1.6", "1.2", "8", "6", "4", "2", "1"];
var expsB   = [-1, -1, -1, -2, -2, -2, -2, -2];

var xTicksA = [92.6, 92.8, 93.0, 93.2, 93.4, 93.6, 93.8, 94.0, 94.2];
var xTicksB = [92.8, 93.0, 93.2, 93.4, 93.6, 93.8, 94.0, 94.2];
var yExpTicksA = [2, 4, 6, 8, 10, 12];
var yExpTicksB = [2, 4, 6, 8, 10, 12, 14];

var peakA = 94.034, peakB = 94.045;

// tab10 order: gray, pink, brown, purple, red, green, orange, blue
var colors = ["#7f7f7f", "#e377c2", "#8c564b", "#9467bd", "#d62728", "#2ca02c", "#ff7f0e", "#1f77b4"];

var svg = d3.select("#chart-area").append("svg")
    .attr("width", 710)
    .attr("height", 970);

function drawPanel(p) {
    var g = svg.append("g")
        .attr("transform", "translate(" + p.left + "," + p.top + ")");

    var x = d3.scaleLinear().domain(p.xDomain).range([0, p.width]);
    var y = d3.scaleLog().domain(p.yDomain).range([p.height, 0]);

    g.append("clipPath").attr("id", p.id + "-clip")
        .append("rect").attr("width", p.width).attr("height", p.height);

    // Grid
    var grid = g.append("g").attr("class", "grid");
    grid.selectAll(".gx").data(p.xTicks).enter().append("line")
        .attr("x1", d => x(d)).attr("x2", d => x(d))
        .attr("y1", 0).attr("y2", p.height);
    grid.selectAll(".gy").data(p.yExp).enter().append("line")
        .attr("x1", 0).attr("x2", p.width)
        .attr("y1", d => y(Math.pow(10, d))).attr("y2", d => y(Math.pow(10, d)));

    // Lines
    var line = d3.line()
        .x(d => x(d[0]))
        .y(d => y(Math.pow(10, d[1])));

    var plot = g.append("g").attr("clip-path", "url(#" + p.id + "-clip)");
    p.series.forEach(function(s, i) {
        plot.append("path")
            .attr("fill", "none")
            .attr("stroke", colors[i])
            .attr("stroke-width", 1.5)
            .attr("stroke-linejoin", "round")
            .attr("d", line(s));
    });

    // Peak position marker
    plot.append("line")
        .attr("x1", x(p.peak)).attr("x2", x(p.peak))
        .attr("y1", 0).attr("y2", p.height)
        .attr("stroke", "#000")
        .attr("stroke-width", 1)
        .attr("stroke-dasharray", "2,1.6");

    // Axes
    var xAxis = g.append("g").attr("class", "axis")
        .attr("transform", "translate(0," + p.height + ")")
        .call(d3.axisBottom(x).tickValues(p.xTicks).tickFormat(d3.format(".1f"))
            .tickSize(5).tickPadding(9).tickSizeOuter(0));
    xAxis.select(".domain").remove();

    var yAxis = g.append("g").attr("class", "axis")
        .call(d3.axisLeft(y).tickValues(p.yExp.map(e => Math.pow(10, e)))
            .tickFormat("").tickSize(5).tickSizeOuter(0));
    yAxis.select(".domain").remove();
    yAxis.selectAll(".tick").each(function(d) {
        var t = d3.select(this).append("text")
            .attr("x", -17).attr("y", 6)
            .attr("text-anchor", "end")
            .attr("fill", "#000");
        t.append("tspan").attr("font-size", "16px").text("10");
        t.append("tspan").attr("font-size", "11px").attr("dy", -7)
            .text(Math.round(Math.log10(d)));
    });

    // Frame
    g.append("rect")
        .attr("width", p.width).attr("height", p.height)
        .attr("fill", "none").attr("stroke", "#000").attr("stroke-width", 1.2);

    // Curve labels
    p.labels.forEach(function(lab, i) {
        var t = g.append("text")
            .attr("x", x(p.labelPos[i][0]))
            .attr("y", y(Math.pow(10, p.labelPos[i][1])))
            .attr("fill", colors[i])
            .attr("font-size", "19.5px");
        t.append("tspan").text(lab + " \u00d7 10");
        t.append("tspan").attr("font-size", "13.5px").attr("dy", -8)
            .text("\u2212" + (-p.exps[i]));
    });

    // Panel tag
    g.append("text")
        .attr("x", 20).attr("y", p.tagY)
        .attr("font-size", "22px")
        .text(p.tag);

    // Axis titles
    var xl = g.append("text")
        .attr("x", p.width / 2).attr("y", p.height + p.xLabelDy)
        .attr("text-anchor", "middle")
        .attr("font-size", "21.5px");
    xl.append("tspan").text("2");
    xl.append("tspan").attr("font-style", "italic").text("\u03b8");
    xl.append("tspan").text(" (deg.)");

    g.append("text")
        .attr("transform", "translate(" + (31 - p.left) + "," + (p.height / 2) + ") rotate(-90)")
        .attr("text-anchor", "middle")
        .attr("font-size", "21.5px")
        .text("Normalized Intensity (arb. unit)");
}

drawPanel({
    id: "pa", tag: "(a)", tagY: 39,
    left: 90, top: 6, width: 620.5, height: 391,
    xDomain: [92.6, 94.3], yDomain: [Math.pow(10, 0.29), Math.pow(10, 13.32)],
    xTicks: xTicksA, yExp: yExpTicksA, peak: peakA,
    series: [aGray, aPink, aBrown, aPurple, aRed, aGreen, aOrange, aBlue],
    labels: labelsA, exps: expsA,
    labelPos: [[92.614, 9.72], [92.619, 7.92], [92.805, 6.69], [92.805, 5.29],
               [92.704, 3.59], [92.704, 2.62], [92.704, 1.62], [92.704, 0.69]],
    xLabelDy: 50
});

drawPanel({
    id: "pb", tag: "(b)", tagY: 37,
    left: 90, top: 515, width: 601.3, height: 391.7,
    xDomain: [92.7, 94.2], yDomain: [Math.pow(10, 0.677), Math.pow(10, 14.49)],
    xTicks: xTicksB, yExp: yExpTicksB, peak: peakB,
    series: [bGray, bPink, bBrown, bPurple, bRed, bGreen, bOrange, bBlue],
    labels: labelsB, exps: expsB,
    labelPos: [[92.763, 11.21], [92.725, 9.27], [92.805, 8.15], [92.855, 6.77],
               [92.905, 4.79], [93.102, 3.31], [93.102, 2.22], [92.783, 0.91]],
    xLabelDy: 50
});
</script>
</body>
</html>
